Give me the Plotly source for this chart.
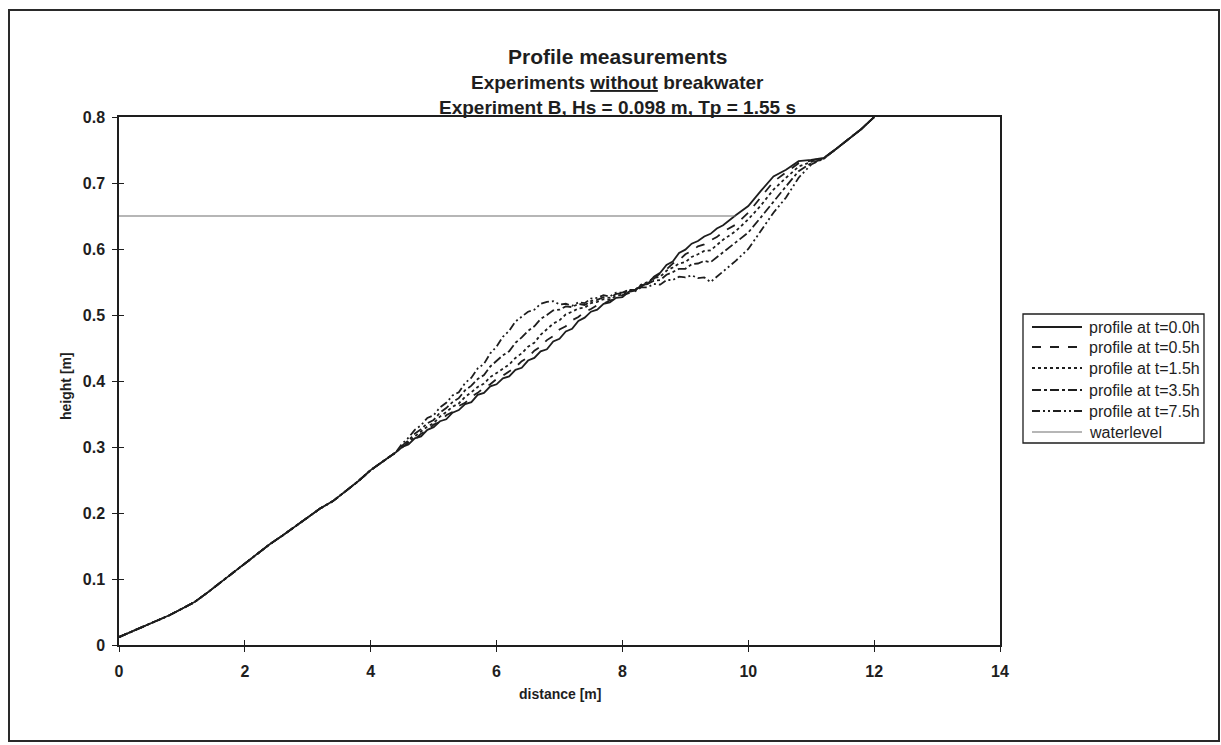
import plotly.graph_objects as go

# common lower part of the slope (all profiles coincide here)
dist_common = [0.0, 0.2, 0.4, 0.6, 0.8, 1.0, 1.2, 1.4, 1.6, 1.8, 2.0, 2.2,
               2.4, 2.6, 2.8, 3.0, 3.2, 3.4, 3.6, 3.8, 4.0, 4.2, 4.4]
h_common = [0.012, 0.020, 0.029, 0.037, 0.045, 0.055, 0.065, 0.079, 0.094, 0.109, 0.124, 0.138,
            0.153, 0.166, 0.180, 0.193, 0.207, 0.218, 0.233, 0.248, 0.265, 0.278, 0.292]

# upper part where the profiles differ (fine steps where the scan is noisy)
dist_tail = [4.5, 4.6, 4.7, 4.8, 4.9, 5.0, 5.1, 5.2, 5.3, 5.4,
             5.5, 5.6, 5.7, 5.8, 5.9, 6.0, 6.1, 6.2, 6.3, 6.4,
             6.5, 6.6, 6.7, 6.8, 6.9, 7.0, 7.1, 7.2, 7.3, 7.4,
             7.5, 7.6, 7.7, 7.8, 7.9, 8.0, 8.1, 8.2, 8.3, 8.4,
             8.5, 8.6, 8.7, 8.8, 8.9, 9.0, 9.1, 9.2, 9.3, 9.4,
             9.5, 9.6, 9.8, 10.0, 10.2, 10.4, 10.6, 10.8, 11.0, 11.2,
             11.4, 11.6, 11.8, 12.0]
h_t00 = [0.300, 0.304, 0.313, 0.316, 0.326, 0.330, 0.339, 0.342, 0.352, 0.356,
         0.365, 0.368, 0.379, 0.382, 0.392, 0.395, 0.404, 0.407, 0.417, 0.420,
         0.431, 0.435, 0.445, 0.448, 0.460, 0.464, 0.475, 0.479, 0.491, 0.496,
         0.505, 0.508, 0.517, 0.519, 0.526, 0.527, 0.535, 0.537, 0.545, 0.547,
         0.558, 0.564, 0.576, 0.581, 0.594, 0.599, 0.608, 0.612, 0.619, 0.623,
         0.631, 0.636, 0.651, 0.665, 0.688, 0.710, 0.720, 0.733, 0.735, 0.738,
         0.752, 0.767, 0.782, 0.800]
h_t05 = [0.299, 0.307, 0.311, 0.320, 0.325, 0.334, 0.338, 0.348, 0.353, 0.362,
         0.367, 0.376, 0.382, 0.390, 0.395, 0.403, 0.408, 0.415, 0.421, 0.430,
         0.436, 0.446, 0.452, 0.462, 0.468, 0.478, 0.483, 0.492, 0.497, 0.505,
         0.509, 0.515, 0.517, 0.522, 0.525, 0.530, 0.533, 0.539, 0.543, 0.550,
         0.555, 0.563, 0.569, 0.578, 0.583, 0.592, 0.597, 0.604, 0.607, 0.613,
         0.618, 0.626, 0.637, 0.655, 0.678, 0.702, 0.716, 0.730, 0.734, 0.738,
         0.752, 0.767, 0.782, 0.800]
h_t15 = [0.301, 0.307, 0.316, 0.323, 0.331, 0.336, 0.346, 0.353, 0.361, 0.366,
         0.376, 0.383, 0.391, 0.396, 0.406, 0.412, 0.419, 0.425, 0.435, 0.442,
         0.452, 0.458, 0.470, 0.478, 0.487, 0.492, 0.501, 0.505, 0.510, 0.511,
         0.518, 0.520, 0.524, 0.523, 0.529, 0.531, 0.536, 0.538, 0.546, 0.550,
         0.556, 0.558, 0.567, 0.572, 0.578, 0.580, 0.588, 0.592, 0.597, 0.598,
         0.606, 0.614, 0.627, 0.645, 0.666, 0.690, 0.708, 0.725, 0.732, 0.737,
         0.752, 0.767, 0.782, 0.800]
h_t35 = [0.302, 0.310, 0.320, 0.327, 0.336, 0.341, 0.352, 0.359, 0.368, 0.374,
         0.386, 0.393, 0.403, 0.409, 0.422, 0.430, 0.439, 0.445, 0.458, 0.466,
         0.476, 0.483, 0.494, 0.500, 0.507, 0.508, 0.513, 0.512, 0.517, 0.515,
         0.521, 0.523, 0.527, 0.526, 0.532, 0.533, 0.538, 0.538, 0.545, 0.547,
         0.552, 0.553, 0.561, 0.565, 0.570, 0.570, 0.577, 0.578, 0.582, 0.580,
         0.588, 0.595, 0.610, 0.625, 0.648, 0.672, 0.695, 0.718, 0.730, 0.737,
         0.752, 0.767, 0.782, 0.800]
h_t75 = [0.305, 0.314, 0.326, 0.333, 0.344, 0.348, 0.360, 0.367, 0.378, 0.383,
         0.397, 0.405, 0.419, 0.426, 0.442, 0.452, 0.467, 0.476, 0.490, 0.497,
         0.505, 0.508, 0.517, 0.520, 0.521, 0.516, 0.517, 0.514, 0.519, 0.518,
         0.525, 0.526, 0.530, 0.528, 0.534, 0.534, 0.538, 0.536, 0.542, 0.542,
         0.547, 0.546, 0.553, 0.553, 0.558, 0.557, 0.560, 0.556, 0.557, 0.550,
         0.558, 0.566, 0.582, 0.600, 0.628, 0.655, 0.678, 0.708, 0.728, 0.737,
         0.752, 0.767, 0.782, 0.800]

water_x = [0.0, 9.8]
water_y = [0.65, 0.65]

names = ['profile at t=0.0h', 'profile at t=0.5h', 'profile at t=1.5h',
         'profile at t=3.5h', 'profile at t=7.5h', 'waterlevel']
dashes = ['solid', 'dash', 'dot', 'dashdot', '8px,3px,2px,3px,2px,3px', 'solid']
x_ticks = [0, 2, 4, 6, 8, 10, 12, 14]
y_ticks = [0, 0.1, 0.2, 0.3, 0.4, 0.5, 0.6, 0.7, 0.8]
y_ticktext = ['0', '0.1', '0.2', '0.3', '0.4', '0.5', '0.6', '0.7', '0.8']

INK = '#1e1e1e'
WATER = '#6e6e6e'
FONT = 'Arial, Liberation Sans, sans-serif'

# plot area in pixels
L, R, T, B = 119, 1000, 117, 645
W, H = R - L, B - T


def px(x):
    return (x - L) / W


def py(y):
    return (B - y) / H


fig = go.Figure()
profiles = [h_t00, h_t05, h_t15, h_t35, h_t75]
for name, dash, tail in zip(names[:5], dashes[:5], profiles):
    fig.add_trace(go.Scatter(x=dist_common + dist_tail, y=h_common + tail,
                             mode='lines', name=name, showlegend=False,
                             line=dict(color=INK, width=1.8, dash=dash)))
fig.add_trace(go.Scatter(x=water_x, y=water_y, mode='lines', name=names[5],
                         showlegend=False, line=dict(color=WATER, width=1.1)))
# dummy trace for the overlay axes (inner half of the crossing ticks)
fig.add_trace(go.Scatter(x=[], y=[], xaxis='x2', yaxis='y2', showlegend=False))

axis_common = dict(showgrid=False, zeroline=False, showline=True, mirror=True,
                   linecolor=INK, linewidth=1.5, ticks='outside', ticklen=5,
                   tickwidth=1.2, tickcolor=INK,
                   tickfont=dict(family=FONT, size=16, color=INK, weight='bold'))
fig.update_layout(
    width=1221, height=745,
    margin=dict(l=L, r=1221 - R, t=T, b=745 - B),
    paper_bgcolor='white', plot_bgcolor='white',
    xaxis=dict(range=[0, 14], tickvals=x_ticks, ticklabelstandoff=6, **axis_common),
    yaxis=dict(range=[0, 0.8], tickvals=y_ticks, ticktext=y_ticktext,
               ticklabelstandoff=4, **axis_common),
    xaxis2=dict(range=[0, 14], overlaying='x', tickvals=x_ticks, ticks='inside',
                ticklen=5, tickwidth=1.2, tickcolor=INK, showticklabels=False,
                showgrid=False, zeroline=False, showline=False, side='bottom'),
    yaxis2=dict(range=[0, 0.8], overlaying='y', tickvals=y_ticks, ticks='inside',
                ticklen=5, tickwidth=1.2, tickcolor=INK, showticklabels=False,
                showgrid=False, zeroline=False, showline=False, side='left'),
    showlegend=False,
)

ann = []
# titles
ann.append(dict(text='<b>Profile measurements</b>', x=px(617), y=py(56),
                font=dict(size=21)))
ann.append(dict(text='<b>Experiments <u>without</u> breakwater</b>', x=px(617), y=py(83),
                font=dict(size=19)))
ann.append(dict(text='<b>Experiment B, Hs = 0.098 m, Tp = 1.55 s</b>', x=px(617), y=py(108),
                font=dict(size=19)))
# axis titles
ann.append(dict(text='<b>distance [m]</b>', x=px(560), y=py(694), font=dict(size=14)))
ann.append(dict(text='<b>height [m]</b>', x=px(66), y=py(386), textangle=-90,
                font=dict(size=14)))
for a in ann:
    a.update(xref='paper', yref='paper', showarrow=False, xanchor='center', yanchor='middle')
    a['font'].update(family=FONT, color=INK)

shapes = []
# outer chart border
shapes.append(dict(type='rect', x0=px(9), x1=px(1219), y0=py(10), y1=py(741),
                   line=dict(color='#2a2a2a', width=2)))
# legend box
shapes.append(dict(type='rect', x0=px(1023), x1=px(1204), y0=py(314), y1=py(443),
                   line=dict(color=INK, width=1.3)))
row_y = [327, 347, 368, 390, 411, 432]
for i, name in enumerate(names):
    col = WATER if i == 5 else INK
    shapes.append(dict(type='line', x0=px(1032), x1=px(1082), y0=py(row_y[i]), y1=py(row_y[i]),
                       line=dict(color=col, width=1.8 if i < 5 else 1.1, dash=dashes[i])))
    ann.append(dict(text=name, x=px(1087), y=py(row_y[i]), xref='paper', yref='paper',
                    showarrow=False, xanchor='left', yanchor='middle',
                    font=dict(family=FONT, size=16, color=INK)))
for s in shapes:
    s.update(xref='paper', yref='paper')

fig.update_layout(annotations=ann, shapes=shapes)

fig.write_html('out.html', config={'displayModeBar': False},
               post_script="document.body.style.margin='0';")
